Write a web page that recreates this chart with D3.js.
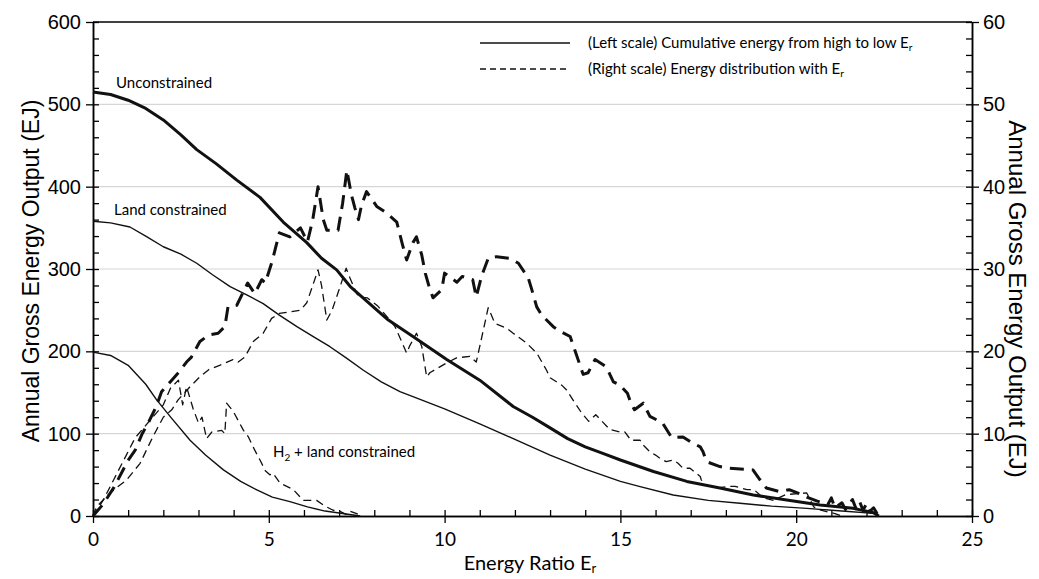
<!DOCTYPE html>
<html>
<head>
<meta charset="utf-8">
<script src="https://cdn.jsdelivr.net/npm/d3@7"></script>
<style>
  body { margin: 0; background: #fff; }
  svg { display: block; }
</style>
</head>
<body>
<svg id="chart" width="1039" height="579"></svg>
<script>
// cumulative energy curves (left scale), [Er, EJ]
const unconstrainedCum = [[0,515],[0.5,512],[1,505],[1.5,495],[2,481],[2.5,463],[2.95,445],[3.5,428],[4.09,408],[4.75,387],[5.41,357],[6.08,332],[6.5,313],[6.93,299],[7.31,279],[7.97,254],[8.4,238],[9.1,218],[10.06,190],[11,165],[11.95,133],[12.5,120],[13,107],[13.5,94],[14,84],[14.5,76],[15,68],[15.94,54],[16.89,42],[17.83,34],[18.78,25.5],[19.73,19.4],[20.68,13.4],[21.62,9.3],[22.2,4],[22.35,0]]
const landCum = [[0,358],[0.5,356],[1.05,351],[1.5,340],[2,327],[2.5,318],[2.95,307],[3.4,293],[3.9,278.5],[4.4,268],[4.84,258],[5.3,244],[5.8,230],[6.3,217],[6.74,205.6],[7.2,192],[7.69,177],[8.2,163],[8.73,151],[9.1,145],[10,130],[11,112],[12,93],[13,74],[14,57],[15,42],[15.56,35.6],[16.5,25.5],[17.5,19],[18.4,15.4],[19.3,12],[20.3,9.3],[21.3,6],[22.2,3.2],[22.35,0]]
const h2Cum = [[0,199],[0.5,195],[1,183],[1.5,160],[1.81,141],[2.25,118],[2.76,92],[3.2,74],[3.71,56],[4.2,42],[4.66,31.6],[5.1,23],[5.6,17.4],[6.1,11],[6.6,6],[7.1,3],[7.6,0]]

// energy distribution curves (right scale), [Er, EJ]
const unconstrainedDist = [[0,0],[0.3,1.5],[0.6,3.5],[0.99,6.7],[1.2,8],[1.4,10],[1.57,11.3],[1.8,13.3],[1.95,15.1],[2.24,16.5],[2.45,17.5],[2.66,18.7],[2.8,19.3],[3.04,21.2],[3.3,22],[3.56,22.2],[3.75,23],[3.84,25.4],[4.09,25.6],[4.4,28.3],[4.6,27],[4.8,28.7],[4.9,28.3],[5.1,31],[5.3,34.4],[5.6,33.9],[5.9,35],[6.1,33.3],[6.25,36],[6.4,40],[6.55,36],[6.65,34.7],[6.97,34.7],[7.1,38],[7.22,42],[7.35,39],[7.45,37.4],[7.55,36],[7.64,37.8],[7.78,39.4],[8.07,37.6],[8.35,36.8],[8.64,35.7],[8.8,33],[8.92,31.1],[9.1,33.2],[9.2,33.9],[9.35,31.7],[9.45,29.5],[9.55,28],[9.67,26.5],[9.92,27.5],[10,29.5],[10.35,28.4],[10.5,29.1],[10.8,28.7],[10.9,26.6],[11.05,29.1],[11.24,31.3],[11.48,31.5],[11.86,31.3],[12.1,30.7],[12.38,28.9],[12.48,27.5],[12.62,25.4],[12.76,24.4],[13.09,23],[13.3,22.4],[13.57,21.8],[13.7,20.2],[13.94,17.2],[14.08,17.4],[14.28,19],[14.6,18.1],[14.8,16.3],[14.99,15.9],[15.2,14.9],[15.3,13.7],[15.4,12.9],[15.65,13.7],[15.84,12.1],[16.2,11.3],[16.27,10.8],[16.46,9.5],[16.78,9.6],[17,9],[17.27,8.4],[17.35,7.8],[17.45,6.6],[17.83,6],[18.1,5.8],[18.77,5.6],[18.97,4.4],[19.15,3.4],[19.5,3],[19.8,3.2],[20.15,2.6],[20.3,2.3],[20.6,1.8],[20.9,1.4],[21,2.2],[21.1,1],[21.3,1.6],[21.4,0.8],[21.6,2],[21.7,0.9],[21.8,1.8],[21.9,0.7],[22,1.5],[22.1,0.6],[22.2,1],[22.3,0.3],[22.35,0]]
const landDist = [[0,0],[0.1,1.1],[0.48,2.8],[0.96,4.4],[1.34,6.4],[1.7,9.6],[2,12],[2.24,12.9],[2.42,14.1],[2.76,15.7],[3.04,16.9],[3.3,17.8],[3.6,18.3],[3.98,19],[4.13,18.7],[4.32,19.3],[4.56,21.2],[4.84,22.2],[5.08,24],[5.3,24.6],[5.6,24.8],[5.9,25],[6.08,25.9],[6.25,28],[6.4,29.9],[6.5,28],[6.65,23.8],[6.8,25],[7,27.5],[7.2,30.1],[7.3,29],[7.5,27],[7.6,26.6],[7.8,26.5],[8.1,25.5],[8.4,24],[8.59,23],[8.92,19.8],[9,20.6],[9.2,22.2],[9.35,20.6],[9.49,16.9],[9.58,17.4],[10.06,18.6],[10.34,19.2],[10.72,19.4],[10.9,18.7],[11,20.6],[11.24,25.3],[11.43,23.4],[11.77,22.8],[11.95,22.2],[12.33,21],[12.62,19.8],[12.9,17.7],[13,16.8],[13.33,15.9],[13.47,15.3],[13.65,14.1],[13.9,12.5],[14.1,11.5],[14.3,12.3],[14.5,11.4],[14.7,10.5],[15,10.2],[15.13,10.2],[15.3,9.2],[15.56,9.2],[15.65,8.6],[15.84,7.8],[16,7.4],[16.13,7],[16.3,6.6],[16.5,6.8],[16.64,6.4],[16.78,5.8],[16.98,5.8],[17.27,4.8],[17.3,4.4],[17.4,3.8],[17.73,3.4],[18.1,3.6],[18.26,3.6],[18.6,3.2],[18.8,3.2],[19.06,2.2],[19.35,1.9],[19.5,2.2],[19.7,2.6],[20.3,2.8],[20.5,1.1],[20.7,0.7],[21.1,0.3],[21.3,0]]
const h2Dist = [[0,0],[0.3,2],[0.6,4.5],[0.9,7],[1.2,9.5],[1.5,11],[1.8,12.5],[2,13.5],[2.2,15.5],[2.43,16.5],[2.55,13.5],[2.66,15.7],[2.85,13],[3,11.3],[3.1,12],[3.23,9.4],[3.38,10.2],[3.66,10.4],[3.75,10],[3.8,13.7],[3.99,12.7],[4.28,10.4],[4.42,9.6],[4.6,8],[4.75,6.8],[4.9,5.5],[5.03,5],[5.12,5.2],[5.32,4],[5.7,3.2],[5.98,1.9],[6.36,1.9],[6.6,1.2],[6.83,0.7],[7,0.6],[7.2,0.2],[7.3,0.6],[7.5,0.3],[7.6,0]]

const xMajor = [0,5,10,15,20,25]
const leftMajor = [0,100,200,300,400,500,600]
const rightMajor = [0,10,20,30,40,50,60]
const gridVals = [100,200,300,400,500]

const svg = d3.select('#chart')
const plotL = 93, plotR = 972, plotT = 22, plotB = 516

const x = d3.scaleLinear().domain([0,25]).range([plotL,plotR])
const yL = d3.scaleLinear().domain([0,600]).range([plotB,plotT])
const yR = d3.scaleLinear().domain([0,60]).range([plotB,plotT])

const arial = "'Liberation Sans', Arial, sans-serif"
const calibri = "Lato, 'Open Sans', sans-serif"

// light grid lines
svg.append("g")
    .selectAll("line")
    .data(gridVals)
    .join("line")
    .attr("x1", plotL).attr("x2", plotR)
    .attr("y1", d => yL(d)).attr("y2", d => yL(d))
    .attr("stroke", "#d6d6d6")
    .attr("stroke-width", 1.2)

// top frame line
svg.append("line")
    .attr("x1", plotL).attr("x2", plotR)
    .attr("y1", plotT).attr("y2", plotT)
    .attr("stroke", "#000").attr("stroke-width", 1.5)

function styleAxis(g, font, size){
    g.selectAll("path.domain").attr("stroke", "#000").attr("stroke-width", 1.5)
    g.selectAll(".tick line").attr("stroke", "#000").attr("stroke-width", 1.3)
    g.selectAll(".tick text").style("font-family", font).style("font-size", size + "px").attr("fill", "#000")
}

// left axis: labelled major ticks outward, minor ticks inward
svg.append("g")
    .attr("transform", `translate(${plotL},0)`)
    .call(d3.axisLeft(yL).tickValues(leftMajor).tickSize(7).tickSizeOuter(0).tickPadding(5))
    .call(g => styleAxis(g, arial, 20))
svg.append("g")
    .attr("transform", `translate(${plotL},0)`)
    .call(d3.axisRight(yL).tickValues(d3.range(0,601,20)).tickSize(6).tickSizeOuter(0).tickFormat(""))
    .call(g => styleAxis(g, arial, 20))

// right axis
svg.append("g")
    .attr("transform", `translate(${plotR},0)`)
    .call(d3.axisRight(yR).tickValues(rightMajor).tickSize(7).tickSizeOuter(0).tickPadding(4))
    .call(g => styleAxis(g, arial, 20))
svg.append("g")
    .attr("transform", `translate(${plotR},0)`)
    .call(d3.axisLeft(yR).tickValues(d3.range(0,61,2)).tickSize(6).tickSizeOuter(0).tickFormat(""))
    .call(g => styleAxis(g, arial, 20))

// bottom axis
svg.append("g")
    .attr("transform", `translate(0,${plotB})`)
    .call(d3.axisBottom(x).tickValues(xMajor).tickSize(7).tickSizeOuter(0).tickPadding(10))
    .call(g => styleAxis(g, calibri, 19))
svg.append("g")
    .attr("transform", `translate(0,${plotB})`)
    .call(d3.axisTop(x).tickValues(d3.range(0,26,1)).tickSize(6).tickSizeOuter(0).tickFormat(""))
    .call(g => styleAxis(g, calibri, 19))

// curves
const lineL = d3.line().x(d => x(d[0])).y(d => yL(d[1]))
const lineR = d3.line().x(d => x(d[0])).y(d => yR(d[1]))

const series = [
    {data: h2Dist, gen: lineR, w: 1.3, dash: "8,5"},
    {data: landDist, gen: lineR, w: 1.3, dash: "8,5"},
    {data: unconstrainedDist, gen: lineR, w: 3, dash: "14,8"},
    {data: h2Cum, gen: lineL, w: 1.4, dash: null},
    {data: landCum, gen: lineL, w: 1.4, dash: null},
    {data: unconstrainedCum, gen: lineL, w: 3, dash: null}
]
svg.append("g")
    .selectAll("path")
    .data(series)
    .join("path")
    .attr("d", d => d.gen(d.data))
    .attr("fill", "none")
    .attr("stroke", "#111")
    .attr("stroke-width", d => d.w)
    .attr("stroke-dasharray", d => d.dash)
    .attr("stroke-linejoin", "round")

// curve labels
const notes = svg.append("g").style("font-family", calibri).style("font-size", "15px")
notes.append("text").attr("x", 116).attr("y", 88).text("Unconstrained")
notes.append("text").attr("x", 114).attr("y", 215).text("Land constrained")
const h2 = notes.append("text").attr("x", 273).attr("y", 457)
h2.append("tspan").text("H")
h2.append("tspan").attr("dy", 4).style("font-size", "10px").text("2")
h2.append("tspan").attr("dy", -4).text(" + land constrained")

// legend
const legend = svg.append("g").style("font-family", calibri).style("font-size", "15px")
legend.append("line").attr("x1", 480).attr("x2", 570).attr("y1", 43).attr("y2", 43)
    .attr("stroke", "#111").attr("stroke-width", 1.5)
legend.append("line").attr("x1", 480).attr("x2", 570).attr("y1", 69).attr("y2", 69)
    .attr("stroke", "#111").attr("stroke-width", 1.3).attr("stroke-dasharray", "6,4")
const l1 = legend.append("text").attr("x", 588).attr("y", 48)
l1.append("tspan").text("(Left scale) Cumulative energy from high to low E")
l1.append("tspan").attr("dy", 3).style("font-size", "10px").text("r")
const l2 = legend.append("text").attr("x", 588).attr("y", 74)
l2.append("tspan").text("(Right scale) Energy distribution with E")
l2.append("tspan").attr("dy", 3).style("font-size", "10px").text("r")

// axis titles
svg.append("text")
    .attr("transform", "translate(31,271) rotate(-90)")
    .attr("text-anchor", "middle").attr("dy", "0.35em")
    .style("font-family", arial).style("font-size", "23px")
    .text("Annual Gross Energy Output (EJ)")
svg.append("text")
    .attr("transform", "translate(1017,299) rotate(90)")
    .attr("text-anchor", "middle").attr("dy", "0.35em")
    .style("font-family", arial).style("font-size", "24px")
    .text("Annual Gross Energy Output (EJ)")
const xt = svg.append("text")
    .attr("x", 530).attr("y", 570)
    .attr("text-anchor", "middle")
    .style("font-family", calibri).style("font-size", "20px")
xt.append("tspan").text("Energy Ratio E")
xt.append("tspan").attr("dy", 3).style("font-size", "13px").text("r")
</script>
</body>
</html>
